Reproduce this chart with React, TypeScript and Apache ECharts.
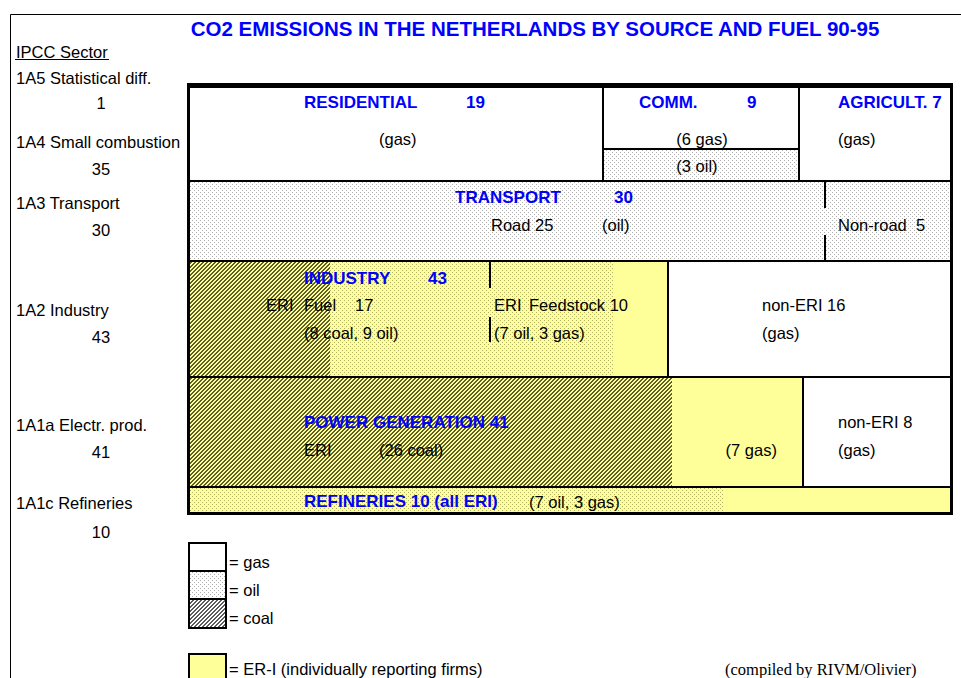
import React, { useEffect, useRef } from 'react';
import * as echarts from 'echarts';

// ---------- data ----------
const TITLE = 'CO2 EMISSIONS IN THE NETHERLANDS BY SOURCE AND FUEL 90-95';
const ipccHeader = 'IPCC Sector';
const ipccSectors = ['1A5 Statistical diff.', '1A4 Small combustion', '1A3 Transport', '1A2 Industry', '1A1a Electr. prod.', '1A1c Refineries'];
const ipccTotals = [1, 35, 30, 43, 41, 10];

const smallCombustionNames = ['RESIDENTIAL', 'COMM.', 'AGRICULT.'];
const smallCombustionValues = [19, 9, 7];
const smallCombustionFuels = ['gas', 'split', 'gas'];
const commercialFuelNames = ['gas', 'oil'];
const commercialFuelValues = [6, 3];

const transportNames = ['Road', 'Non-road'];
const transportValues = [25, 5];
const transportFuels = ['oil', 'oil'];

const industryGroups = ['ERI Fuel', 'ERI Fuel', 'ERI Feedstock', 'ERI Feedstock', 'non-ERI'];
const industryValues = [8, 9, 7, 3, 16];
const industryFuels = ['coal', 'oil', 'oil', 'gas', 'gas'];
const industryEri = [true, true, true, true, false];

const powerValues = [26, 7, 8];
const powerFuels = ['coal', 'gas', 'gas'];
const powerEri = [true, true, false];

const refineryValues = [7, 3];
const refineryFuels = ['oil', 'gas'];

const legendNames = ['gas', 'oil', 'coal'];
const legendEriName = 'ER-I (individually reporting firms)';
const CREDIT = '(compiled by RIVM/Olivier)';

// ---------- styles ----------
const BLUE = '#0000ff';
const YELLOW = '#ffff99';
const FONT = '"Liberation Sans", Arial, Helvetica, sans-serif';
const SERIF = '"Liberation Serif", "Times New Roman", serif';
const FS = 16.5;
const FSB = 17;

function makeTile(size: number, bg: string, fg: string, on: (x: number, y: number) => boolean) {
  const c = document.createElement('canvas');
  c.width = size;
  c.height = size;
  const ctx = c.getContext('2d')!;
  ctx.fillStyle = bg;
  ctx.fillRect(0, 0, size, size);
  ctx.fillStyle = fg;
  for (let y = 0; y < size; y++) for (let x = 0; x < size; x++) if (on(x, y)) ctx.fillRect(x, y, 1, 1);
  return { image: c.toDataURL(), repeat: 'repeat', imageWidth: size, imageHeight: size } as any;
}
const stipple = (x: number, y: number) => (x % 4 === 0 && y % 4 === 0) || (x % 4 === 2 && y % 4 === 2);
const hatch = (x: number, y: number) => (x + y) % 4 < 2;

const sum = (a: number[]) => a.reduce((s, v) => s + v, 0);

export default function App() {
  const ref = useRef<HTMLDivElement>(null);

  useEffect(() => {
    document.body.style.margin = '0';
    const el = ref.current!;
    const chart = echarts.init(el, null, { renderer: 'svg' });

    const fills: Record<string, any> = {
      gas: '#ffffff',
      gasEri: YELLOW,
      oil: makeTile(4, '#ffffff', '#b0b0b0', stipple),
      oilEri: makeTile(4, YELLOW, '#b0b066', stipple),
      coal: makeTile(4, '#ffffff', '#5c5c5c', hatch),
      coalEri: makeTile(4, YELLOW, '#5e5e28', hatch),
    };
    const fillFor = (fuel: string, eri: boolean) => fills[fuel + (eri ? 'Eri' : '')];

    // rows stacked along y (emission units)
    const rowStart: number[] = [];
    let acc = 0;
    ipccTotals.forEach((t) => { rowStart.push(acc); acc += t; });
    const grandTotal = acc;
    const rowY = (row: number, f: number) => rowStart[row] + f * ipccTotals[row];

    type Cell = { x0: number; x1: number; y0: number; y1: number; fill: any };
    type Box = { x0: number; x1: number; y0: number; y1: number; w: number; color: string };
    type Div = { x: number; y0: number; y1: number };
    const cells: Cell[] = [];
    const boxes: Box[] = [];
    const divs: Div[] = [];

    const addParts = (row: number, values: number[], fuels: string[], eris: boolean[]) => {
      const total = ipccTotals[row];
      let cum = 0;
      values.forEach((v, i) => {
        cells.push({ x0: cum / total, x1: (cum + v) / total, y0: rowY(row, 0), y1: rowY(row, 1), fill: fillFor(fuels[i], eris[i]) });
        cum += v;
      });
    };
    const addBox = (row: number, a: number, b: number, w = 2) => {
      const total = ipccTotals[row];
      boxes.push({ x0: a / total, x1: b / total, y0: rowY(row, 0), y1: rowY(row, 1), w, color: '#000' });
    };

    // row 0: statistical difference strip
    cells.push({ x0: 0, x1: 1, y0: rowY(0, 0), y1: rowY(0, 1), fill: fills.gas });
    boxes.push({ x0: 0, x1: 1, y0: rowY(0, 0), y1: rowY(0, 1), w: 1, color: '#b8b8b8' });

    // row 1: small combustion
    {
      const total = ipccTotals[1];
      let cum = 0;
      smallCombustionValues.forEach((v, i) => {
        const x0 = cum / total;
        const x1 = (cum + v) / total;
        if (smallCombustionFuels[i] === 'split') {
          const ct = sum(commercialFuelValues);
          let c2 = 0;
          commercialFuelValues.forEach((fv, j) => {
            const ya = rowY(1, c2 / ct);
            const yb = rowY(1, (c2 + fv) / ct);
            cells.push({ x0, x1, y0: ya, y1: yb, fill: fillFor(commercialFuelNames[j], false) });
            boxes.push({ x0, x1, y0: ya, y1: yb, w: 2, color: '#000' });
            c2 += fv;
          });
        } else {
          cells.push({ x0, x1, y0: rowY(1, 0), y1: rowY(1, 1), fill: fillFor(smallCombustionFuels[i], false) });
        }
        addBox(1, cum, cum + v);
        cum += v;
      });
    }

    // row 2: transport
    addParts(2, transportValues, transportFuels, [false, false]);
    addBox(2, 0, ipccTotals[2]);
    {
      const x = transportValues[0] / ipccTotals[2];
      divs.push({ x, y0: rowY(2, 0), y1: rowY(2, 0.3375) });
      divs.push({ x, y0: rowY(2, 0.675), y1: rowY(2, 1) });
    }

    // row 3: industry
    addParts(3, industryValues, industryFuels, industryEri);
    {
      const eriSum = sum(industryValues.filter((_, i) => industryEri[i]));
      addBox(3, 0, eriSum);
      addBox(3, eriSum, ipccTotals[3]);
      const fuelSum = sum(industryValues.filter((_, i) => industryGroups[i] === 'ERI Fuel'));
      const x = fuelSum / ipccTotals[3];
      divs.push({ x, y0: rowY(3, 0), y1: rowY(3, 0.233) });
      divs.push({ x, y0: rowY(3, 0.483), y1: rowY(3, 0.698) });
    }

    // row 4: power generation
    addParts(4, powerValues, powerFuels, powerEri);
    {
      const eriSum = sum(powerValues.filter((_, i) => powerEri[i]));
      addBox(4, 0, eriSum);
      addBox(4, eriSum, ipccTotals[4]);
    }

    // row 5: refineries
    addParts(5, refineryValues, refineryFuels, [true, true]);
    addBox(5, 0, ipccTotals[5]);

    // outer frame of the diagram
    boxes.push({ x0: 0, x1: 1, y0: 0, y1: grandTotal, w: 3, color: '#000' });

    // ---------- labels inside the diagram (x: share of width, f: fraction of row height) ----------
    const industryFuel = industryValues[0] + industryValues[1];
    const industryFeed = industryValues[2] + industryValues[3];
    type Lab = { row: number; x: number; f: number; text: string; bold?: boolean; align?: string };
    const labels: Lab[] = [
      { row: 1, x: 0.1518, f: 0.167, text: smallCombustionNames[0], bold: true },
      { row: 1, x: 0.3639, f: 0.167, text: String(smallCombustionValues[0]), bold: true },
      { row: 1, x: 0.25, f: 0.556, text: '(gas)' },
      { row: 1, x: 0.5903, f: 0.167, text: smallCombustionNames[1], bold: true },
      { row: 1, x: 0.7317, f: 0.167, text: String(smallCombustionValues[1]), bold: true },
      { row: 1, x: 0.6728, f: 0.561, text: `(${commercialFuelValues[0]} ${commercialFuelNames[0]})`, align: 'center' },
      { row: 1, x: 0.6662, f: 0.843, text: `(${commercialFuelValues[1]} ${commercialFuelNames[1]})`, align: 'center' },
      { row: 1, x: 0.8508, f: 0.167, text: `${smallCombustionNames[2]} ${smallCombustionValues[2]}`, bold: true },
      { row: 1, x: 0.8508, f: 0.556, text: '(gas)' },

      { row: 2, x: 0.3495, f: 0.2125, text: 'TRANSPORT', bold: true },
      { row: 2, x: 0.5576, f: 0.2125, text: String(ipccTotals[2]), bold: true },
      { row: 2, x: 0.3966, f: 0.55, text: `${transportNames[0]} ${transportValues[0]}` },
      { row: 2, x: 0.5419, f: 0.55, text: '(oil)' },
      { row: 2, x: 0.8508, f: 0.55, text: `${transportNames[1]}  ${transportValues[1]}` },

      { row: 3, x: 0.1518, f: 0.151, text: 'INDUSTRY', bold: true },
      { row: 3, x: 0.3141, f: 0.151, text: String(ipccTotals[3]), bold: true },
      { row: 3, x: 0.1021, f: 0.379, text: 'ERI' },
      { row: 3, x: 0.1518, f: 0.379, text: 'Fuel' },
      { row: 3, x: 0.2186, f: 0.379, text: String(industryFuel) },
      { row: 3, x: 0.4005, f: 0.379, text: 'ERI' },
      { row: 3, x: 0.4463, f: 0.379, text: `Feedstock ${industryFeed}` },
      { row: 3, x: 0.1518, f: 0.616, text: `(${industryValues[0]} coal, ${industryValues[1]} oil)` },
      { row: 3, x: 0.4005, f: 0.616, text: `(${industryValues[2]} oil, ${industryValues[3]} gas)` },
      { row: 3, x: 0.7513, f: 0.379, text: `non-ERI ${industryValues[4]}` },
      { row: 3, x: 0.7513, f: 0.616, text: '(gas)' },

      { row: 4, x: 0.1518, f: 0.41, text: `POWER GENERATION ${ipccTotals[4]}`, bold: true },
      { row: 4, x: 0.8508, f: 0.41, text: `non-ERI ${powerValues[2]}` },
      { row: 4, x: 0.1518, f: 0.662, text: 'ERI' },
      { row: 4, x: 0.25, f: 0.662, text: `(${powerValues[0]} coal)` },
      { row: 4, x: 0.7709, f: 0.662, text: `(${powerValues[1]} gas)`, align: 'right' },
      { row: 4, x: 0.8508, f: 0.662, text: '(gas)' },

      { row: 5, x: 0.1518, f: 0.537, text: `REFINERIES ${ipccTotals[5]} (all ERI)`, bold: true },
      { row: 5, x: 0.4463, f: 0.556, text: `(${refineryValues[0]} oil, ${refineryValues[1]} gas)` },
    ];

    // ---------- graphic (title, sector column, legend) ----------
    const nameY = [77.5, 141.5, 203, 310, 425, 503];
    const valueY = [102.5, 169, 230, 337, 451.5, 532];
    const txt = (text: string, x: number, y: number, opt: any = {}) => ({
      type: 'text',
      x,
      y,
      silent: true,
      style: {
        text,
        fill: opt.fill || '#000',
        fontSize: opt.fontSize || FS,
        fontWeight: opt.fontWeight || 'normal',
        fontFamily: opt.fontFamily || FONT,
        align: opt.align || 'left',
        verticalAlign: 'middle',
      },
    });

    const graphics: any[] = [
      { type: 'polyline', silent: true, shape: { points: [[961, 14.5], [10.5, 14.5], [10.5, 678]] }, style: { stroke: '#000', lineWidth: 1, fill: 'none' } },
      txt(TITLE, 535, 28, { fill: BLUE, fontWeight: 'bold', fontSize: 20.5, align: 'center' }),
      txt(ipccHeader, 16, 51.5),
      { type: 'line', silent: true, shape: { x1: 15, y1: 59.5, x2: 109, y2: 59.5 }, style: { stroke: '#000', lineWidth: 1 } },
    ];
    ipccSectors.forEach((s, i) => {
      graphics.push(txt(s, 16, nameY[i]));
      graphics.push(txt(String(ipccTotals[i]), 101, valueY[i], { align: 'center' }));
    });
    const legendFills = [fills.gas, fills.oil, fills.coal];
    const legendTop = [543, 571, 599];
    const legendH = [28, 28, 29];
    legendNames.forEach((n, i) => {
      graphics.push({ type: 'rect', silent: true, shape: { x: 189, y: legendTop[i], width: 37, height: legendH[i] }, style: { fill: legendFills[i], stroke: '#000', lineWidth: 2 } });
      graphics.push(txt('= ' + n, 229, [562, 590, 618][i]));
    });
    graphics.push({ type: 'rect', silent: true, shape: { x: 189, y: 654, width: 37, height: 40 }, style: { fill: YELLOW, stroke: '#000', lineWidth: 2 } });
    graphics.push(txt('= ' + legendEriName, 229, 668.5));
    graphics.push(txt(CREDIT, 725, 669, { fontFamily: SERIF, fontSize: 16.5 }));

    const option: any = {
      animation: false,
      grid: { left: 188, right: 9, top: 84, bottom: 164 },
      xAxis: { type: 'value', min: 0, max: 1, show: false },
      yAxis: { type: 'value', min: 0, max: grandTotal, inverse: true, show: false },
      series: [
        {
          type: 'custom',
          silent: true,
          coordinateSystem: 'cartesian2d',
          data: cells.map((c) => [c.x0, c.y0, c.x1, c.y1]),
          encode: { x: [0, 2], y: [1, 3] },
          renderItem: (params: any, api: any) => {
            const c = cells[params.dataIndex];
            const p0 = api.coord([api.value(0), api.value(1)]);
            const p1 = api.coord([api.value(2), api.value(3)]);
            const x0 = Math.round(p0[0]);
            const y0 = Math.round(p0[1]);
            return {
              type: 'rect',
              shape: { x: x0, y: y0, width: Math.round(p1[0]) - x0, height: Math.round(p1[1]) - y0 },
              style: { fill: c.fill, stroke: null },
            };
          },
        },
        {
          type: 'custom',
          silent: true,
          coordinateSystem: 'cartesian2d',
          data: divs.map((d) => [d.x, d.y0, d.y1]),
          encode: { x: 0, y: [1, 2] },
          renderItem: (params: any, api: any) => {
            const p0 = api.coord([api.value(0), api.value(1)]);
            const p1 = api.coord([api.value(0), api.value(2)]);
            const x = Math.round(p0[0]);
            return {
              type: 'line',
              shape: { x1: x, y1: Math.round(p0[1]), x2: x, y2: Math.round(p1[1]) },
              style: { stroke: '#000', lineWidth: 2 },
            };
          },
        },
        {
          type: 'custom',
          silent: true,
          coordinateSystem: 'cartesian2d',
          data: boxes.map((b) => [b.x0, b.y0, b.x1, b.y1]),
          encode: { x: [0, 2], y: [1, 3] },
          renderItem: (params: any, api: any) => {
            const b = boxes[params.dataIndex];
            const p0 = api.coord([api.value(0), api.value(1)]);
            const p1 = api.coord([api.value(2), api.value(3)]);
            const off = b.w % 2 === 1 ? 0.5 : 0;
            let x0 = Math.round(p0[0]) + off;
            let y0 = Math.round(p0[1]) + off;
            let x1 = Math.round(p1[0]) + off;
            let y1 = Math.round(p1[1]) + off;
            if (b.w === 3) { x1 -= 1; y1 -= 1; }
            return {
              type: 'rect',
              shape: { x: x0, y: y0, width: x1 - x0, height: y1 - y0 },
              style: { fill: 'none', stroke: b.color, lineWidth: b.w },
            };
          },
        },
        {
          type: 'custom',
          silent: true,
          coordinateSystem: 'cartesian2d',
          data: labels.map((l) => [l.x, rowY(l.row, l.f)]),
          encode: { x: 0, y: 1 },
          renderItem: (params: any, api: any) => {
            const l = labels[params.dataIndex];
            const p = api.coord([api.value(0), api.value(1)]);
            return {
              type: 'text',
              x: p[0],
              y: p[1],
              style: {
                text: l.text,
                fill: l.bold ? BLUE : '#000',
                fontSize: l.bold ? FSB : FS,
                fontWeight: l.bold ? 'bold' : 'normal',
                fontFamily: FONT,
                align: l.align || 'left',
                verticalAlign: 'middle',
              },
            };
          },
        },
      ],
      graphic: graphics,
    };

    chart.setOption(option);
    return () => chart.dispose();
  }, []);

  return <div ref={ref} style={{ width: 961, height: 678 }} />;
}
